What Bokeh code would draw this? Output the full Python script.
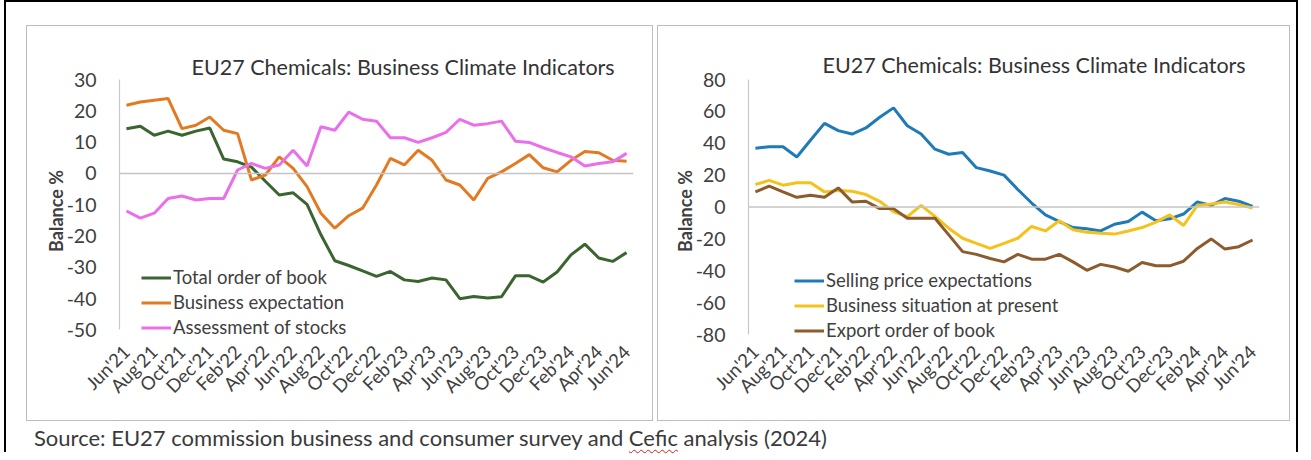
from bokeh.plotting import figure
from bokeh.models import Range1d, FixedTicker, Span, Legend, LegendItem, Div, Title, Column, Row
from bokeh.embed import file_html
from bokeh.resources import INLINE

months = ["Jun'21", "Jul'21", "Aug'21", "Sep'21", "Oct'21", "Nov'21", "Dec'21",
          "Jan'22", "Feb'22", "Mar'22", "Apr'22", "May'22", "Jun'22", "Jul'22", "Aug'22",
          "Sep'22", "Oct'22", "Nov'22", "Dec'22", "Jan'23", "Feb'23", "Mar'23", "Apr'23",
          "May'23", "Jun'23", "Jul'23", "Aug'23", "Sep'23", "Oct'23", "Nov'23", "Dec'23",
          "Jan'24", "Feb'24", "Mar'24", "Apr'24", "May'24", "Jun'24"]

# Left chart
total_order_of_book = [14.3, 15.1, 12.2, 13.5, 12.2, 13.5, 14.5, 4.6, 3.7, 2.0, -2.5, -6.9, -6.2,
                       -9.9, -19.6, -27.9, -29.4, -31.1, -32.9, -31.3, -34.0, -34.5, -33.4, -34.0,
                       -40.0, -39.3, -39.8, -39.4, -32.7, -32.7, -34.7, -31.5, -26.0, -22.6, -27.0,
                       -28.1, -25.3]
business_expectation = [21.8, 22.8, 23.4, 23.9, 14.3, 15.4, 18.0, 13.8, 12.7, -2.1, -0.5, 5.3, 1.6,
                        -4.2, -12.7, -17.5, -13.5, -11.1, -3.7, 4.8, 2.7, 7.4, 4.2, -2.1, -3.7, -8.5,
                        -1.6, 0.5, 3.2, 6.0, 1.8, 0.5, 4.2, 7.0, 6.6, 4.2, 3.9]
assessment_of_stocks = [-12.0, -14.3, -12.7, -8.0, -7.2, -8.5, -8.0, -8.0, 1.1, 3.2, 1.6, 2.7, 7.4,
                        2.4, 14.9, 13.8, 19.6, 17.3, 16.7, 11.4, 11.4, 9.9, 11.4, 13.1, 17.3, 15.4,
                        15.9, 16.7, 10.3, 9.9, 8.2, 6.7, 5.3, 2.4, 3.2, 3.7, 6.4]

# Right chart
selling_price_expectations = [36.9, 37.8, 37.8, 31.4, 42.0, 52.5, 47.9, 45.8, 49.6, 56.3, 62.2, 51.0,
                              45.8, 36.3, 33.1, 34.2, 24.7, 22.6, 20.0, 11.0, 2.5, -4.9, -9.1, -12.9,
                              -13.7, -15.0, -10.8, -9.1, -3.2, -8.6, -7.4, -4.4, 3.2, 1.0, 5.3, 3.6, 0.4]
business_situation_at_present = [14.1, 16.7, 13.7, 15.2, 15.2, 9.5, 10.3, 9.9, 7.8, 3.6, -3.0, -6.0,
                                 1.0, -5.9, -13.3, -19.6, -22.8, -25.9, -22.8, -19.6, -12.2, -15.0,
                                 -8.6, -14.3, -15.8, -16.5, -17.0, -15.0, -12.9, -9.5, -4.9, -11.6,
                                 1.0, 1.9, 3.2, 1.5, -0.6]
export_order_of_book = [9.5, 13.1, 9.5, 6.1, 7.4, 6.1, 12.0, 3.2, 3.6, -1.0, -1.0, -7.0, -7.0, -7.0,
                        -17.5, -28.0, -29.7, -32.3, -34.4, -29.7, -32.7, -32.7, -29.7, -34.4, -39.7,
                        -36.0, -37.6, -40.3, -34.8, -36.9, -36.9, -34.0, -26.0, -20.0, -26.4, -24.9,
                        -20.7]

left_ticks = [30, 20, 10, 0, -10, -20, -30, -40, -50]
right_ticks = [80, 60, 40, 20, 0, -20, -40, -60, -80]

TITLE = "EU27 Chemicals: Business Climate Indicators"
FONT = "Lato"
TXT = "#404040"


def make_panel(width, mb_left, mb_right, mb_top, mb_bottom, yr, ybounds, yticks, series,
               title_offset, title_standoff, legend_loc):
    x = list(range(len(months)))
    p = figure(width=width, height=396, x_range=Range1d(-0.5, len(months) - 0.5),
               y_range=Range1d(yr[0], yr[1]), output_backend="svg", toolbar_location=None,
               min_border_left=mb_left, min_border_right=mb_right, min_border_top=mb_top,
               min_border_bottom=mb_bottom, background_fill_color="white",
               border_fill_color="white", outline_line_color=None,
               styles={"border": "1px solid #bdbdbd"})
    p.grid.visible = False
    t = Title(text=TITLE, align="left", offset=title_offset, text_font=FONT,
              text_font_size="21.5px", text_font_style="normal", text_color="#333333",
              standoff=title_standoff)
    p.add_layout(t, "above")

    p.xaxis.ticker = FixedTicker(ticks=list(range(0, len(months), 2)))
    p.xaxis.major_label_overrides = {i: m for i, m in enumerate(months)}
    p.xaxis.major_label_orientation = 0.785398
    p.xaxis.axis_line_color = None
    p.xaxis.major_tick_line_color = None
    p.xaxis.minor_tick_line_color = None
    p.xaxis.major_label_standoff = 0
    p.xaxis.major_label_text_font = FONT
    p.xaxis.major_label_text_font_size = "18.5px"
    p.xaxis.major_label_text_color = TXT

    p.yaxis.ticker = FixedTicker(ticks=yticks)
    p.yaxis.major_label_overrides = {v: str(v) for v in yticks}
    p.yaxis.bounds = ybounds
    p.yaxis.axis_line_color = "#c8c8c8"
    p.yaxis.axis_line_width = 1.2
    p.yaxis.major_tick_line_color = None
    p.yaxis.minor_tick_line_color = None
    p.yaxis.major_label_standoff = 17
    p.yaxis.major_label_text_font = FONT
    p.yaxis.major_label_text_font_size = "19.5px"
    p.yaxis.major_label_text_color = TXT
    p.yaxis.axis_label = "Balance %"
    p.yaxis.axis_label_text_font = FONT
    p.yaxis.axis_label_text_font_size = "18px"
    p.yaxis.axis_label_text_font_style = "bold"
    p.yaxis.axis_label_text_color = TXT
    p.yaxis.axis_label_standoff = -3

    p.add_layout(Span(location=0, dimension="width", line_color="#c4c4c4", line_width=1.5))

    items = []
    for label, vals, color in series:
        r = p.line(x, vals, line_color=color, line_width=3)
        items.append(LegendItem(label=label, renderers=[r]))
    lg = Legend(items=items, location=legend_loc, padding=0, margin=0, spacing=3,
                glyph_width=30, glyph_height=21, label_height=21, label_standoff=2,
                label_text_font=FONT, label_text_font_size="18.5px", label_text_color=TXT,
                background_fill_alpha=0, border_line_color=None)
    p.add_layout(lg, "center")
    return p


p1 = make_panel(627, 92, 21, 42, 80, (-54, 30), (-50, 30), left_ticks,
                [("Total order of book", total_order_of_book, "#3A6530"),
                 ("Business expectation", business_expectation, "#E37A22"),
                 ("Assessment of stocks", assessment_of_stocks, "#EA6FEA")],
                72, 0, (22, 4))
p2 = make_panel(633, 90, 32, 53, 79, (-85, 80), (-80, 80), right_ticks,
                [("Selling price expectations", selling_price_expectations, "#1F7AB8"),
                 ("Business situation at present", business_situation_at_present, "#F4C21A"),
                 ("Export order of book", export_order_of_book, "#8C5B2E")],
                74, 4, (46, 1))
p1.margin = (23, 0, 0, 20)
p2.margin = (23, 6, 0, 4)

src = Div(text='Source: EU27 commission business and consumer survey and '
               '<span style="text-decoration: underline wavy #d02020; text-decoration-thickness:1px; '
               'text-underline-offset:3px">Cefic</span> analysis (2024)',
          styles={"font-family": FONT, "font-size": "22px", "color": "#3a3a3a",
                  "white-space": "nowrap", "line-height": "28px"},
          margin=(3, 0, 0, 28), width=900, height=28)

layout = Column(children=[Row(children=[p1, p2]), src],
                styles={"border": "2px solid black", "border-bottom": "none",
                        "background-color": "white"},
                margin=(0, 0, 0, 4))

open("out.html", "w").write(file_html(layout, INLINE))
